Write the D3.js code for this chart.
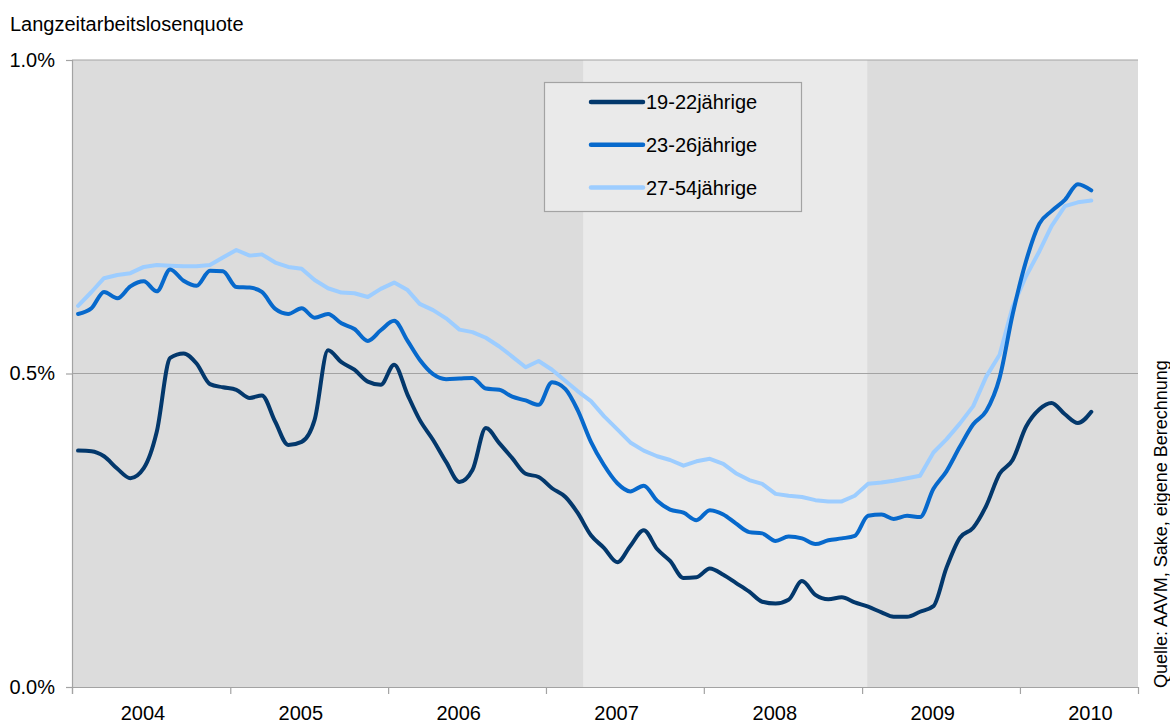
<!DOCTYPE html>
<html>
<head>
<meta charset="utf-8">
<script src="https://cdn.jsdelivr.net/npm/d3@7/dist/d3.min.js"></script>
<style>
  body { margin: 0; background: #fff; }
  svg { display: block; font-family: 'Liberation Sans', Arial, sans-serif; }
</style>
</head>
<body>
<div id="chart"></div>
<script>
// monthly values Jan 2004 - Jun 2010, in percent
var age19to22 = [
  0.377, 0.376, 0.368, 0.348, 0.333, 0.349, 0.407, 0.525, 0.532, 0.516, 0.483, 0.478,
  0.474, 0.461, 0.465, 0.423, 0.386, 0.391, 0.426, 0.537, 0.518, 0.506, 0.487, 0.482,
  0.514, 0.466, 0.426, 0.394, 0.359, 0.327, 0.346, 0.413, 0.389, 0.365, 0.340, 0.335,
  0.317, 0.303, 0.278, 0.242, 0.222, 0.199, 0.225, 0.250, 0.220, 0.201, 0.174, 0.175,
  0.189, 0.179, 0.166, 0.152, 0.136, 0.133, 0.139, 0.169, 0.147, 0.140, 0.143, 0.135,
  0.128, 0.119, 0.112, 0.112, 0.120, 0.129, 0.190, 0.238, 0.254, 0.289, 0.340, 0.362,
  0.415, 0.443, 0.453, 0.435, 0.421, 0.439
];
var age23to26 = [
  0.595, 0.604, 0.630, 0.620, 0.639, 0.647, 0.631, 0.666, 0.648, 0.640, 0.664, 0.663,
  0.638, 0.637, 0.630, 0.603, 0.595, 0.604, 0.589, 0.595, 0.580, 0.571, 0.552, 0.569,
  0.584, 0.552, 0.522, 0.499, 0.491, 0.492, 0.493, 0.476, 0.474, 0.463, 0.457, 0.450,
  0.486, 0.475, 0.442, 0.391, 0.354, 0.325, 0.312, 0.321, 0.297, 0.283, 0.278, 0.266,
  0.282, 0.275, 0.261, 0.247, 0.245, 0.233, 0.240, 0.237, 0.228, 0.234, 0.237, 0.241,
  0.273, 0.275, 0.268, 0.273, 0.271, 0.316, 0.344, 0.383, 0.419, 0.440, 0.493, 0.594,
  0.679, 0.739, 0.759, 0.777, 0.802, 0.792
];
var age27to54 = [
  0.608, 0.630, 0.652, 0.657, 0.660, 0.670, 0.673, 0.672, 0.671, 0.671, 0.673, 0.685,
  0.697, 0.688, 0.690, 0.677, 0.670, 0.667, 0.649, 0.636, 0.629, 0.628, 0.622, 0.635,
  0.645, 0.633, 0.611, 0.601, 0.588, 0.570, 0.566, 0.557, 0.543, 0.527, 0.510, 0.520,
  0.506, 0.488, 0.472, 0.456, 0.432, 0.411, 0.390, 0.377, 0.368, 0.362, 0.353, 0.360,
  0.364, 0.356, 0.341, 0.330, 0.324, 0.308, 0.305, 0.303, 0.298, 0.296, 0.296, 0.305,
  0.324, 0.326, 0.329, 0.333, 0.337, 0.374, 0.395, 0.420, 0.448, 0.495, 0.530, 0.606,
  0.655, 0.695, 0.735, 0.767, 0.773, 0.776
];
var seriesNames = ['19-22jährige', '23-26jährige', '27-54jährige'];
var years = [2004, 2005, 2006, 2007, 2008, 2009, 2010];
var yTicks = [0, 0.5, 1.0];
// lighter shaded phase
var phase = [new Date(2007, 2, 28), new Date(2009, 0, 13)];

var colors = ['#03386c', '#0769cc', '#9dcdff'];

var width = 1170;
var height = 727;
var margin = { left: 72, right: 1138, top: 60, bottom: 687 };

var months = d3.timeMonth.range(new Date(2004, 0, 1), new Date(2010, 6, 1))
  .map(function (d) { return d3.timeDay.offset(d, 14); });

var x = d3.scaleTime()
  .domain([new Date(2004, 0, 1), new Date(2010, 9, 1)])
  .range([margin.left, margin.right]);

var y = d3.scaleLinear()
  .domain([0, 1.0])
  .range([margin.bottom, margin.top]);

var svg = d3.select('#chart').append('svg')
  .attr('width', width)
  .attr('height', height);

svg.append('rect')
  .attr('width', width)
  .attr('height', height)
  .attr('fill', '#fff');

// plot background + lighter phase band
svg.append('rect')
  .attr('x', margin.left)
  .attr('y', margin.top)
  .attr('width', margin.right - margin.left)
  .attr('height', margin.bottom - margin.top)
  .attr('fill', '#dcdcdc');

svg.append('rect')
  .attr('x', x(phase[0]))
  .attr('y', margin.top)
  .attr('width', x(phase[1]) - x(phase[0]))
  .attr('height', margin.bottom - margin.top)
  .attr('fill', '#eaeaea');

// gridlines
svg.append('g')
  .selectAll('line')
  .data(yTicks.slice(1))
  .enter()
  .append('line')
  .attr('x1', margin.left)
  .attr('x2', margin.right)
  .attr('y1', function (d) { return y(d); })
  .attr('y2', function (d) { return y(d); })
  .attr('stroke', '#a3a3a3')
  .attr('stroke-width', 1.2);

// y axis
var yAxis = svg.append('g')
  .attr('transform', 'translate(' + margin.left + ',0)')
  .call(d3.axisLeft(y)
    .tickValues(yTicks)
    .tickSize(6)
    .tickPadding(11)
    .tickFormat(function (d) { return d.toFixed(1) + '%'; }));

// x axis: year ticks, labels in the middle of each year
var xAxis = svg.append('g')
  .attr('transform', 'translate(0,' + margin.bottom + ')')
  .call(d3.axisBottom(x)
    .tickValues(years.map(function (yr) { return new Date(yr, 0, 1); }))
    .tickSize(7)
    .tickFormat(''));

var xLabels = svg.append('g')
  .attr('transform', 'translate(0,' + margin.bottom + ')')
  .call(d3.axisBottom(x)
    .tickValues(years.map(function (yr) { return new Date(yr, 5, 12); }))
    .tickSize(0)
    .tickPadding(19)
    .tickFormat(d3.timeFormat('%Y')));
xLabels.select('.domain').remove();

[yAxis, xAxis, xLabels].forEach(function (ax) {
  ax.selectAll('.domain, line').attr('stroke', '#a3a3a3').attr('stroke-width', 1.2);
  ax.selectAll('text')
    .attr('fill', '#000')
    .style('font-family', "'Liberation Sans', Arial, sans-serif")
    .style('font-size', '20px');
});

// lines (the two younger groups look smoothed in the original)
var allSeries = [age19to22, age23to26, age27to54];
var curves = [d3.curveMonotoneX, d3.curveMonotoneX, d3.curveLinear];

svg.append('g')
  .selectAll('path')
  .data([2, 1, 0])
  .enter()
  .append('path')
  .attr('d', function (k) {
    return d3.line()
      .x(function (d, i) { return x(months[i]); })
      .y(function (d) { return y(d); })
      .curve(curves[k])(allSeries[k]);
  })
  .attr('fill', 'none')
  .attr('stroke', function (k) { return colors[k]; })
  .attr('stroke-width', 4)
  .attr('stroke-linejoin', 'round')
  .attr('stroke-linecap', 'round');

// legend
var legend = svg.append('g');
legend.append('rect')
  .attr('x', 544.5)
  .attr('y', 82.5)
  .attr('width', 257)
  .attr('height', 129)
  .attr('fill', '#eaeaea')
  .attr('stroke', '#a3a3a3')
  .attr('stroke-width', 1.2);

var items = legend.selectAll('g.item')
  .data(seriesNames)
  .enter()
  .append('g')
  .attr('class', 'item')
  .attr('transform', function (d, i) { return 'translate(0,' + (102 + i * 42.7) + ')'; });

items.append('line')
  .attr('x1', 591)
  .attr('x2', 643)
  .attr('stroke', function (d, i) { return colors[i]; })
  .attr('stroke-width', 4.5)
  .attr('stroke-linecap', 'round');

items.append('text')
  .attr('x', 646)
  .attr('dy', '0.36em')
  .style('font-size', '20px')
  .text(function (d) { return d; });

// title and source
svg.append('text')
  .attr('x', 10)
  .attr('y', 31)
  .style('font-size', '20px')
  .text('Langzeitarbeitslosenquote');

svg.append('text')
  .attr('transform', 'translate(1167,688) rotate(-90)')
  .style('font-size', '18px')
  .text('Quelle: AAVM, Sake, eigene Berechnung');
</script>
</body>
</html>
